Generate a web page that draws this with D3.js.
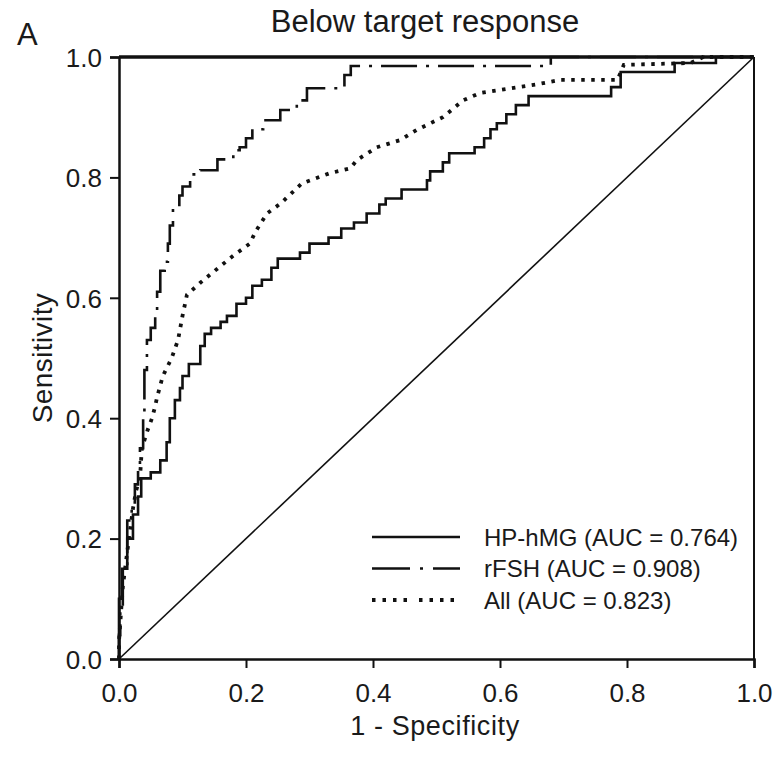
<!DOCTYPE html>
<html>
<head>
<meta charset="utf-8">
<script src="https://cdn.jsdelivr.net/npm/d3@7/dist/d3.min.js"></script>
<style>
    body { margin: 0; background: #fff; }
    svg { display: block; }
</style>
</head>
<body>
<svg id="chart"></svg>
<script>
var WIDTH = 777,
    HEIGHT = 762;
var PLOT_LEFT = 119, PLOT_RIGHT = 754, PLOT_TOP = 57, PLOT_BOTTOM = 659;
var LINE_COLOR = "#111";
var TEXT_COLOR = "#1a1a1a";
var FONT = "'Liberation Sans', Arial, sans-serif";

//tick labels
var TICKS = [0, 0.2, 0.4, 0.6, 0.8, 1.0];

//series names and AUCs
var SERIES = ["HP-hMG", "rFSH", "All"];
var AUC = ["0.764", "0.908", "0.823"];

//HP-hMG curve, [1 - specificity, sensitivity]
var HPHMG = [[0,0],[0,0.1],[0.005,0.15],[0.013,0.2],[0.022,0.24],[0.03,0.27],[0.035,0.3],
    [0.05,0.31],[0.065,0.33],[0.075,0.36],[0.08,0.4],[0.088,0.43],[0.096,0.45],[0.1,0.47],
    [0.11,0.49],[0.128,0.52],[0.135,0.54],[0.145,0.55],[0.16,0.56],[0.17,0.57],[0.185,0.59],
    [0.2,0.6],[0.21,0.62],[0.225,0.63],[0.24,0.65],[0.25,0.665],[0.285,0.675],[0.3,0.69],
    [0.33,0.7],[0.35,0.715],[0.37,0.725],[0.39,0.74],[0.41,0.755],[0.42,0.765],[0.445,0.78],
    [0.485,0.795],[0.49,0.81],[0.51,0.825],[0.52,0.84],[0.56,0.85],[0.575,0.865],[0.585,0.88],
    [0.595,0.89],[0.61,0.905],[0.625,0.92],[0.645,0.935],[0.775,0.95],[0.79,0.975],
    [0.875,0.99],[0.94,1.0],[1,1]];

//rFSH curve
var RFSH = [[0,0],[0,0.04],[0.002,0.08],[0.006,0.15],[0.013,0.23],[0.02,0.26],[0.025,0.29],
    [0.03,0.32],[0.033,0.35],[0.038,0.4],[0.04,0.48],[0.044,0.53],[0.05,0.55],[0.057,0.57],
    [0.06,0.61],[0.065,0.645],[0.072,0.66],[0.077,0.69],[0.08,0.72],[0.085,0.75],[0.095,0.77],
    [0.1,0.785],[0.112,0.805],[0.128,0.812],[0.155,0.83],[0.18,0.845],[0.19,0.85],[0.2,0.865],
    [0.21,0.88],[0.227,0.895],[0.254,0.912],[0.28,0.928],[0.296,0.948],[0.355,0.97],
    [0.365,0.985],[0.68,1.0],[1,1]];

//All curve
var ALL = [[0,0],[0,0.03],[0.006,0.12],[0.012,0.17],[0.017,0.21],[0.022,0.25],[0.027,0.28],
    [0.033,0.3],[0.036,0.35],[0.045,0.38],[0.052,0.4],[0.057,0.42],[0.06,0.435],[0.069,0.47],
    [0.083,0.5],[0.093,0.53],[0.1,0.57],[0.107,0.605],[0.128,0.625],[0.151,0.645],[0.18,0.67],
    [0.206,0.69],[0.215,0.71],[0.233,0.74],[0.255,0.757],[0.265,0.767],[0.288,0.79],
    [0.332,0.807],[0.364,0.815],[0.375,0.829],[0.406,0.85],[0.443,0.862],[0.469,0.879],
    [0.51,0.9],[0.542,0.928],[0.568,0.94],[0.616,0.948],[0.66,0.955],[0.695,0.962],
    [0.785,0.962],[0.795,0.987],[0.9,0.99],[0.92,1.0],[1,1]];

var svg = d3.select("#chart")
    .attr("width", WIDTH)
    .attr("height", HEIGHT)
    .style("font-family", FONT);

var x = d3.scaleLinear().domain([0, 1]).range([PLOT_LEFT, PLOT_RIGHT]);
var y = d3.scaleLinear().domain([0, 1]).range([PLOT_BOTTOM, PLOT_TOP]);

//frame: top and right borders
svg.append("line")
    .attr("x1", x(0)).attr("x2", x(1))
    .attr("y1", y(1)).attr("y2", y(1))
    .style("stroke", LINE_COLOR)
    .style("stroke-width", 3.5);
svg.append("line")
    .attr("x1", x(1)).attr("x2", x(1))
    .attr("y1", y(0)).attr("y2", y(1))
    .style("stroke", LINE_COLOR)
    .style("stroke-width", 2);

//axes
var xAxis = svg.append("g")
    .attr("transform", "translate(0," + PLOT_BOTTOM + ")")
    .call(d3.axisBottom(x).tickValues(TICKS).tickFormat(d3.format(".1f")).tickSize(9).tickPadding(16));
var yAxis = svg.append("g")
    .attr("transform", "translate(" + PLOT_LEFT + ",0)")
    .call(d3.axisLeft(y).tickValues(TICKS).tickFormat(d3.format(".1f")).tickSize(9).tickPadding(8));
[xAxis, yAxis].forEach(function (a) {
    a.select(".domain").style("stroke", LINE_COLOR).style("stroke-width", 2.5);
    a.selectAll(".tick line").style("stroke", LINE_COLOR).style("stroke-width", 2);
    a.selectAll(".tick text")
        .style("font-family", FONT)
        .style("font-size", "26px")
        .style("fill", TEXT_COLOR);
});
yAxis.selectAll(".tick text").attr("dy", "0.36em");

//reference diagonal
svg.append("line")
    .attr("x1", x(0)).attr("y1", y(0))
    .attr("x2", x(1)).attr("y2", y(1))
    .style("stroke", LINE_COLOR)
    .style("stroke-width", 1.6);

var stepLine = d3.line()
    .x(function (d) { return x(d[0]); })
    .y(function (d) { return y(d[1]); })
    .curve(d3.curveStepAfter);
var smoothLine = d3.line()
    .x(function (d) { return x(d[0]); })
    .y(function (d) { return y(d[1]); });

var STYLES = [
    { dash: null, legendDash: null, width: 2.6 },
    { dash: "36,9,3,9", legendDash: "38,10,3,10", width: 2.6 },
    { dash: "3.5,6.5", legendDash: "3.5,7,3.5,7,3.5,7,3.5,12", width: 3.8 }
];

//draw curves
svg.append("path")
    .attr("d", stepLine(HPHMG))
    .style("fill", "none").style("stroke", LINE_COLOR).style("stroke-width", STYLES[0].width);
svg.append("path")
    .attr("d", stepLine(RFSH))
    .style("fill", "none").style("stroke", LINE_COLOR).style("stroke-width", STYLES[1].width)
    .style("stroke-dasharray", STYLES[1].dash);
svg.append("path")
    .attr("d", smoothLine(ALL))
    .style("fill", "none").style("stroke", LINE_COLOR).style("stroke-width", STYLES[2].width)
    .style("stroke-dasharray", STYLES[2].dash);

//legend
var legend = svg.append("g").attr("transform", "translate(372,537)");
SERIES.forEach(function (name, i) {
    var row = legend.append("g").attr("transform", "translate(0," + (i * 31.5) + ")");
    row.append("line")
        .attr("x1", 0).attr("x2", 88)
        .attr("y1", 0).attr("y2", 0)
        .style("stroke", LINE_COLOR)
        .style("stroke-width", STYLES[i].width)
        .style("stroke-dasharray", STYLES[i].legendDash);
    row.append("text")
        .attr("x", 112)
        .attr("y", 0)
        .attr("dy", "0.36em")
        .style("font-size", "24px")
        .style("fill", TEXT_COLOR)
        .text(name + " (AUC = " + AUC[i] + ")");
});

//title and labels
svg.append("text")
    .attr("x", 425).attr("y", 32)
    .style("text-anchor", "middle")
    .style("font-size", "31px")
    .style("fill", TEXT_COLOR)
    .text("Below target response");
svg.append("text")
    .attr("x", 17).attr("y", 45)
    .style("font-size", "31px")
    .style("fill", TEXT_COLOR)
    .text("A");
svg.append("text")
    .attr("x", 435).attr("y", 735)
    .style("text-anchor", "middle")
    .style("font-size", "27px")
    .style("letter-spacing", "0.6px")
    .style("fill", TEXT_COLOR)
    .text("1 - Specificity");
svg.append("text")
    .attr("transform", "translate(52,358) rotate(-90)")
    .style("text-anchor", "middle")
    .style("font-size", "28px")
    .style("letter-spacing", "0.4px")
    .style("fill", TEXT_COLOR)
    .text("Sensitivity");
</script>
</body>
</html>
